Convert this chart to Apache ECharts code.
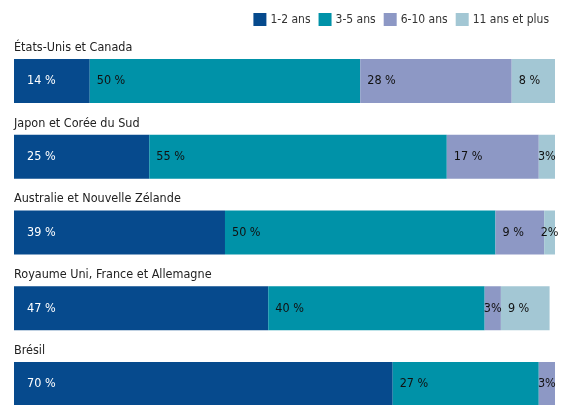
<!DOCTYPE html>
<html>
<head>
<meta charset="utf-8">
<script src="https://cdn.jsdelivr.net/npm/echarts@6/dist/echarts.min.js"></script>
<style>
  html, body { margin: 0; padding: 0; background: #fff; }
  #chart { width: 565px; height: 405px; }
</style>
</head>
<body>
<div id="chart"></div>
<script>
// Regions, top to bottom
const regions = [
  'États-Unis et Canada',
  'Japon et Corée du Sud',
  'Australie et Nouvelle Zélande',
  'Royaume Uni, France et Allemagne',
  'Brésil'
];

// Share of respondents (%) by tenure band
const seriesNames = ['1-2 ans', '3-5 ans', '6-10 ans', '11 ans et plus'];
const yrs1to2   = [14, 25, 39, 47, 70];
const yrs3to5   = [50, 55, 50, 40, 27];
const yrs6to10  = [28, 17, 9, 3, 3];
const yrs11plus = [8, 3, 2, 9, 0];

const colors = ['#064A8D', '#0092A8', '#8D98C5', '#A3C7D4'];
const FONT = '"Liberation Sans Narrow", "DejaVu Sans Condensed", "Roboto", sans-serif';

function buildData(values, first) {
  return values.map(v => {
    const small = v < 5;
    return {
      value: v,
      label: {
        show: v > 0,
        position: small ? 'inside' : 'insideLeft',
        distance: first ? 13 : 7,
        formatter: small ? v + '%' : v + ' %'
      }
    };
  });
}

const allValues = [yrs1to2, yrs3to5, yrs6to10, yrs11plus];

const chart = echarts.init(document.getElementById('chart'), null, { renderer: 'canvas' });
chart.setOption({
  animation: false,
  color: colors,
  legend: {
    right: 11,
    top: 8,
    itemWidth: 13,
    itemHeight: 13,
    itemGap: 8,
    icon: 'rect',
    textStyle: { fontFamily: FONT, fontSize: 12, color: '#333', padding: [0, 0, 0, -1] },
    data: seriesNames
  },
  // Category ticks sit on the bar centres (boundaryGap off)
  grid: { left: 14, right: 10, top: 81, height: 303, containLabel: false },
  xAxis: {
    type: 'value', min: 0, max: 100, show: false
  },
  yAxis: {
    type: 'category',
    inverse: true,
    boundaryGap: false,
    data: regions,
    axisLine: { show: false },
    axisTick: { show: false },
    splitLine: { show: false },
    axisLabel: {
      inside: true,
      margin: 0,
      align: 'left',
      verticalAlign: 'bottom',
      padding: [0, 0, 27, 0],
      fontFamily: FONT,
      fontSize: 12.5,
      color: '#222'
    }
  },
  series: allValues.map((vals, i) => ({
    name: seriesNames[i],
    type: 'bar',
    stack: 'total',
    barWidth: 44,
    itemStyle: { color: colors[i] },
    label: {
      fontFamily: FONT,
      fontSize: 12.5,
      color: i === 0 ? '#fff' : '#111'
    },
    emphasis: { disabled: true },
    data: buildData(vals, i === 0)
  }))
});
</script>
</body>
</html>
